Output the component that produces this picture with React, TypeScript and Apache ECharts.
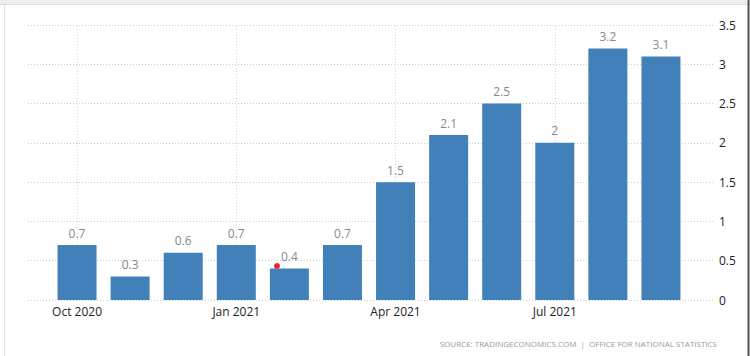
import React, { useEffect, useRef } from "react";
import * as echarts from "echarts";

const categories = [
  "Oct 2020", "Nov 2020", "Dec 2020", "Jan 2021", "Feb 2021", "Mar 2021",
  "Apr 2021", "May 2021", "Jun 2021", "Jul 2021", "Aug 2021", "Sep 2021",
];
const values = [0.7, 0.3, 0.6, 0.7, 0.4, 0.7, 1.5, 2.1, 2.5, 2.0, 3.2, 3.1];
const shownLabels = ["Oct 2020", "Jan 2021", "Apr 2021", "Jul 2021"];
const yTicks = [0, 0.5, 1, 1.5, 2, 2.5, 3, 3.5];
const sourceText = "SOURCE: TRADINGECONOMICS.COM  |  OFFICE FOR NATIONAL STATISTICS";

const FONT = "'Open Sans', 'Noto Sans', sans-serif";

export default function App() {
  const ref = useRef<HTMLDivElement>(null);
  useEffect(() => {
    if (!ref.current) return;
    const chart = echarts.init(ref.current, null, { renderer: "svg" });
    const yMin = yTicks[0];
    const yMax = yTicks[yTicks.length - 1];
    chart.setOption({
      animation: false,
      backgroundColor: "#ffffff",
      grid: [
        { left: 28, right: 35, top: 25, bottom: 56 },
        { left: 50.5, right: 62.5, top: 25, bottom: 56 },
      ],
      xAxis: [
        { type: "value", gridIndex: 0, show: false, min: 0, max: 1 },
        {
          type: "category",
          gridIndex: 1,
          data: categories,
          boundaryGap: true,
          axisLine: { show: false },
          axisTick: { show: false },
          splitLine: { show: false },
          axisLabel: {
            interval: (_i: number, v: string) => shownLabels.includes(v),
            color: "#222",
            fontSize: 12,
            fontFamily: FONT,
            margin: 5,
          },
        },
      ],
      yAxis: [
        {
          type: "value",
          gridIndex: 0,
          position: "right",
          min: yMin,
          max: yMax,
          interval: 0.5,
          axisLine: { show: false },
          axisTick: { show: false },
          axisLabel: { color: "#222", fontSize: 12, fontFamily: FONT, margin: 4 },
          splitLine: { lineStyle: { color: "#cfcfcf", type: [1, 2], width: 1 } },
        },
        {
          type: "value",
          gridIndex: 1,
          min: yMin,
          max: yMax,
          interval: 0.5,
          show: false,
          splitLine: { show: false },
        },
      ],
      series: [
        {
          type: "bar",
          xAxisIndex: 1,
          yAxisIndex: 1,
          data: values,
          barWidth: 39,
          itemStyle: { color: "#4180b9" },
          label: {
            show: true,
            position: "top",
            distance: 6,
            color: "#888",
            fontSize: 12,
            fontFamily: FONT,
          },
          markLine: {
            silent: true,
            symbol: "none",
            label: { show: false },
            lineStyle: { color: "#d4d4d4", type: [1, 2], width: 1 },
            data: shownLabels.map((c) => ({ xAxis: c })),
            z: 0,
          },
          z: 2,
        },
      ],
      graphic: [
        { type: "rect", shape: { x: 0, y: 0, width: 750, height: 4 }, style: { fill: "#efefef" } },
        { type: "line", shape: { x1: 0, y1: 4.5, x2: 750, y2: 4.5 }, style: { stroke: "#dddddd", lineWidth: 1 } },
        { type: "line", shape: { x1: 4.5, y1: 5, x2: 4.5, y2: 356 }, style: { stroke: "#e2e2e2", lineWidth: 1 } },
        { type: "line", shape: { x1: 748.5, y1: 0, x2: 748.5, y2: 356 }, style: { stroke: "#555", lineWidth: 2 } },
        { type: "circle", shape: { cx: 277, cy: 266, r: 3 }, style: { fill: "#e02828" }, z: 10 },
        {
          type: "text",
          x: 717,
          y: 343,
          style: {
            text: sourceText,
            fill: "#9a9a9a",
            fontSize: 8,
            fontFamily: FONT,
            textAlign: "right",
            textVerticalAlign: "middle",
          },
        },
      ],
    });
    return () => chart.dispose();
  }, []);
  return (
    <div
      ref={ref}
      style={{ position: "fixed", left: 0, top: 0, width: 750, height: 356 }}
    />
  );
}
